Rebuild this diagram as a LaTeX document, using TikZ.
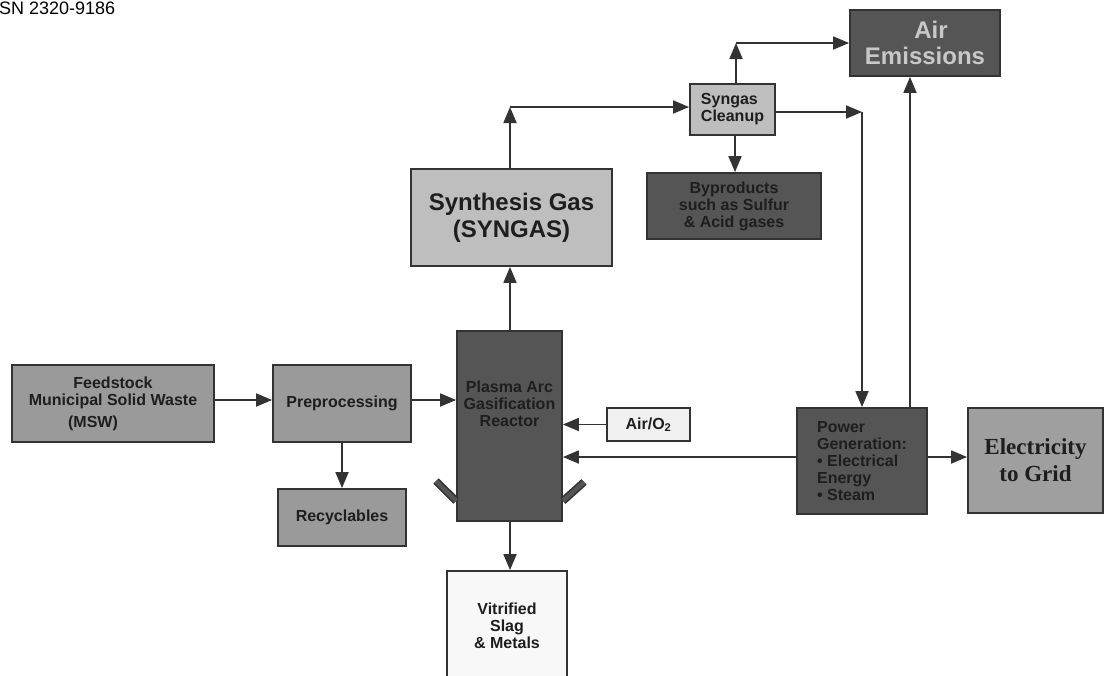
\documentclass[tikz,border=0pt]{standalone}
\usepackage{fontspec}
\setmainfont{Liberation Sans}
\newfontfamily\gridfont{Liberation Serif}
\usetikzlibrary{arrows.meta}
\definecolor{edgec}{HTML}{333333}
\definecolor{txtdark}{HTML}{1E1E1E}
\definecolor{midgray}{HTML}{9A9A9A}
\definecolor{lightgray}{HTML}{BEBEBE}
\definecolor{darkgray}{HTML}{555555}
\definecolor{palegray}{HTML}{F0F0F0}
\definecolor{whitish}{HTML}{F8F8F8}
\definecolor{lighttext}{HTML}{C8C8C8}
\begin{document}
\begin{tikzpicture}[x=1pt,y=-1pt,
  box/.style={draw=edgec, line width=1.8pt, inner sep=0pt, align=center,
    font=\fontsize{16}{17}\selectfont\bfseries, text=txtdark},
  midbox/.style={box, fill=midgray},
  lightbox/.style={box, fill=lightgray},
  darkbox/.style={box, fill=darkgray},
  flow/.style={draw=edgec, line width=1.8pt, -{Triangle[length=16pt,width=13pt]}},
  torch/.style={draw=edgec, line width=1.6pt, double=darkgray, double distance=4.5pt},
]
\useasboundingbox (0,0) rectangle (1105,675);
\clip (0,0) rectangle (1105,675);
\fill[white] (0,0) rectangle (1105,675);

% header line of the page
\node[anchor=base west, inner sep=0pt, font=\fontsize{18}{18}\selectfont] (hdr) at (-1,14) {SN 2320-9186};

% process boxes
\node[midbox, minimum width=202pt, minimum height=77pt] (feed) at (113,403.5)
  {Feedstock\\Municipal Solid Waste\\[5pt]\hspace*{-40pt}(MSW)};
\node[midbox, minimum width=138pt, minimum height=77pt] (prep) at (342,403.5) {Preprocessing};
\node[midbox, minimum width=128pt, minimum height=57pt] (recy) at (342,517.5) {Recyclables};
\node[darkbox, minimum width=105pt, minimum height=190pt] (reac) at (509.5,426) {};
\node[box, draw=none] (reactxt) at (509.5,404) {Plasma Arc\\Gasification\\Reactor};
\node[box, fill=palegray, minimum width=83pt, minimum height=33pt] (air) at (648.5,424.5) {Air/O$_\mathbf{2}$};
\node[lightbox, minimum width=201pt, minimum height=97pt, font=\fontsize{24}{27}\selectfont\bfseries] (syn) at (511.5,217.5)
  {Synthesis Gas\\(SYNGAS)};
\node[lightbox, minimum width=85pt, minimum height=51pt, align=left] (clean) at (732.5,109.5) {Syngas\\Cleanup};
\node[darkbox, minimum width=174pt, minimum height=66pt] (byp) at (734,206)
  {Byproducts\\such as Sulfur\\\&{} Acid gases};
\node[darkbox, minimum width=150pt, minimum height=66pt, font=\fontsize{24}{26}\selectfont\bfseries, text=lighttext] (emis) at (925,43)
  {\hspace*{12pt}Air\\Emissions};
\node[darkbox, minimum width=130pt, minimum height=106pt, align=left] (pow) at (862,461)
  {Power\\Generation:\\\textbullet{} Electrical\\Energy\\\textbullet{} Steam};
\node[midbox, minimum width=135pt, minimum height=105pt, font=\gridfont\fontsize{23}{27}\selectfont\bfseries, fill=midgray!95!white] (elec) at (1035.5,460.5)
  {Electricity\\to Grid};
\node[box, fill=whitish, minimum width=120pt, minimum height=109pt] (vit) at (507,625.5)
  {Vitrified\\Slag\\\&{} Metals};

% plasma torches at the foot of the reactor
\draw[torch] (436,481) -- (reac.west |- 0,501);
\draw[torch] (reac.east |- 0,501) -- (584,482);

% corner points of the routed connectors
\coordinate (c1) at (510,107);
\coordinate (c2) at (736,43);
\coordinate (c3) at (862,112);

% connectors
\draw[flow] (feed.east |- 0,400) -- (prep.west |- 0,400);
\draw[flow] (prep.east |- 0,400) -- (reac.west |- 0,400);
\draw[flow] (prep.south) -- (recy.north);
\draw[flow] (reac.north -| 510,0) -- (syn.south -| 510,0);
\draw[flow] (syn.north -| 510,0) -- (c1);
\draw[flow] (c1) -- (clean.west |- c1);
\draw[flow] (clean.north -| c2) -- (c2);
\draw[flow] (c2) -- (emis.west |- c2);
\draw[flow] (clean.south -| 735,0) -- (byp.north -| 735,0);
\draw[flow] (clean.east |- c3) -- (c3);
\draw[flow] (c3) -- (pow.north -| c3);
\draw[flow] (pow.north -| 910,0) -- (emis.south -| 910,0);
\draw[flow] (pow.east |- 0,457) -- (elec.west |- 0,457);
\draw[flow] (pow.west |- 0,457) -- (reac.east |- 0,457);
\draw[flow] (air.west) -- (reac.east |- air.west);
\draw[flow] (reac.south -| 510,0) -- (vit.north -| 510,0);
\end{tikzpicture}
\end{document}
